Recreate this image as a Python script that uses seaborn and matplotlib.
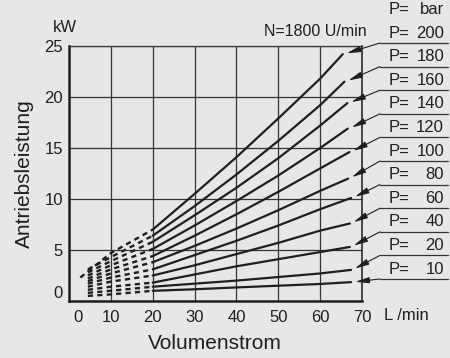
import numpy as np
import pandas as pd
import matplotlib.pyplot as plt
import matplotlib.transforms as mtransforms
from matplotlib.lines import Line2D
import seaborn as sns

# Pressure levels (bar), top curve first
pressures = [200, 180, 160, 140, 120, 100, 80, 60, 40, 20, 10]

# Dashed start region (flow L/min -> power kW)
dash_x0 = [2.7, 4.5, 4.5, 4.5, 4.5, 4.5, 4.5, 4.5, 4.5, 4.5, 4.5]
dash_y0 = [2.3, 3.1, 2.8, 2.5, 2.2, 1.95, 1.7, 1.4, 1.1, 0.8, 0.5]
dash_y10 = [4.7, 4.3, 3.9, 3.5, 3.1, 2.7, 2.3, 1.9, 1.4, 1.0, 0.65]

# Solid part: values at 20, 30, 40, 50, 60 L/min and at the curve end
y20 = [7.0, 6.4, 5.8, 5.1, 4.4, 3.8, 3.1, 2.5, 1.8, 1.4, 1.0]
y30 = [10.5, 9.3, 8.4, 7.4, 6.4, 5.4, 4.5, 3.5, 2.6, 1.7, 1.15]
y40 = [14.1, 12.4, 11.1, 9.8, 8.5, 7.1, 5.9, 4.6, 3.4, 2.0, 1.33]
y50 = [17.9, 15.7, 14.0, 12.3, 10.7, 8.9, 7.4, 5.7, 4.1, 2.35, 1.5]
y60 = [21.8, 19.2, 17.2, 15.0, 13.0, 10.8, 9.0, 6.9, 4.8, 2.7, 1.67]
end_x = [65.4, 65.8, 66.5, 66.6, 67.0, 66.7, 67.4, 67.1, 67.1, 67.4, 67.4]
end_y = [24.2, 21.5, 19.4, 16.9, 14.6, 12.0, 10.1, 7.6, 5.3, 3.05, 1.85]

x_ticks = [0, 10, 20, 30, 40, 50, 60, 70]
y_ticks = [0, 5, 10, 15, 20, 25]

# Build long tables
dash_rows, solid_rows = [], []
for i, p in enumerate(pressures):
    for x, y in zip([dash_x0[i], 10, 20], [dash_y0[i], dash_y10[i], y20[i]]):
        dash_rows.append({"P": p, "flow": x, "power": y})
    xs = [20, 30, 40, 50, 60, end_x[i]]
    ys = [y20[i], y30[i], y40[i], y50[i], y60[i], end_y[i]]
    for x, y in zip(xs, ys):
        solid_rows.append({"P": p, "flow": x, "power": y})
dash_df = pd.DataFrame(dash_rows)
solid_df = pd.DataFrame(solid_rows)

bg = "#e6e7e9"
ink = "#1e1e1e"
W, H = 450, 358

sns.set_theme(style="white")
plt.rcParams["font.family"] = ["Liberation Sans", "DejaVu Sans"]
plt.rcParams["text.color"] = ink

fig = plt.figure(figsize=(4.5, 3.58), dpi=100, facecolor=bg)
ax = fig.add_axes([69 / W, 1 - 301 / H, 293 / W, 255 / H])
ax.set_facecolor(bg)

sns.lineplot(data=dash_df, x="flow", y="power", units="P", estimator=None,
             color=ink, lw=1.7, linestyle=(0, (2.2, 1.8)), ax=ax)
sns.lineplot(data=solid_df, x="flow", y="power", units="P", estimator=None,
             color=ink, lw=1.6, ax=ax)

ax.set_xlim(0, 70)
ax.set_ylim(0, 25)
ax.set_xticks(x_ticks)
ax.set_yticks(y_ticks)
ax.set_xticks(np.arange(5, 70, 10), minor=True)
ax.set_yticks(np.arange(1, 25, 1), minor=True)
ax.tick_params(axis="both", which="major", length=0, labelsize=12, colors=ink)
ax.tick_params(axis="x", which="major", pad=6.5)
ax.tick_params(axis="y", which="major", pad=4.5)
ax.tick_params(axis="both", which="minor", direction="in", length=5, width=1.0, color=ink)
ax.grid(True, which="major", color="#333333", lw=0.9)

for side in ["left", "bottom"]:
    ax.spines[side].set_linewidth(1.8)
    ax.spines[side].set_color(ink)
ax.spines["right"].set_linewidth(1.1)
ax.spines["right"].set_color(ink)
ax.spines["top"].set_linewidth(0.9)
ax.spines["top"].set_color("#333333")

# nudge the two "0" labels like the original
xl0 = ax.get_xticklabels()[0]
xl0.set_transform(xl0.get_transform() + mtransforms.ScaledTranslation(0.087, 0, fig.dpi_scale_trans))
yl0 = ax.get_yticklabels()[0]
yl0.set_transform(yl0.get_transform() + mtransforms.ScaledTranslation(0, 0.095, fig.dpi_scale_trans))

ax.set_xlabel("Volumenstrom", fontsize=15, color=ink)
ax.set_ylabel("Antriebsleistung", fontsize=15, color=ink)
ax.xaxis.set_label_coords(0.498, -0.13)
ax.yaxis.set_label_coords(-0.12, 0.5)


def fxy(px, py):
    return px / W, 1 - py / H


fig.text(*fxy(64.7, 28), "kW", ha="center", va="center", fontsize=12)
fig.text(*fxy(384, 315), "L /min", ha="left", va="center", fontsize=12)
fig.text(*fxy(367, 31.7), "N=1800 U/min", ha="right", va="center", fontsize=11.5)

# pressure labels with underlines and leader arrows
lab_fs = 12
fig.text(*fxy(389, 10), "P=", ha="left", va="center", fontsize=lab_fs)
fig.text(*fxy(444, 10), "bar", ha="right", va="center", fontsize=lab_fs)
for i, p in enumerate(pressures):
    y_ul = 43 + 23.6 * i
    fig.text(*fxy(389, y_ul - 10), "P=", ha="left", va="center", fontsize=lab_fs)
    fig.text(*fxy(444, y_ul - 10), str(p), ha="right", va="center", fontsize=lab_fs)
    fig.add_artist(Line2D([380 / W, 448 / W], [1 - y_ul / H] * 2,
                          transform=fig.transFigure, color="#333333", lw=0.9))
    ax.annotate("", xy=(end_x[i] + 0.3, end_y[i]), xycoords="data",
                xytext=fxy(380, y_ul), textcoords="figure fraction",
                arrowprops=dict(arrowstyle="-|>,head_length=0.7,head_width=0.15",
                                color=ink, lw=0.8, shrinkA=0, shrinkB=2),
                annotation_clip=False)

plt.savefig("out.png", dpi=100, facecolor=bg)
